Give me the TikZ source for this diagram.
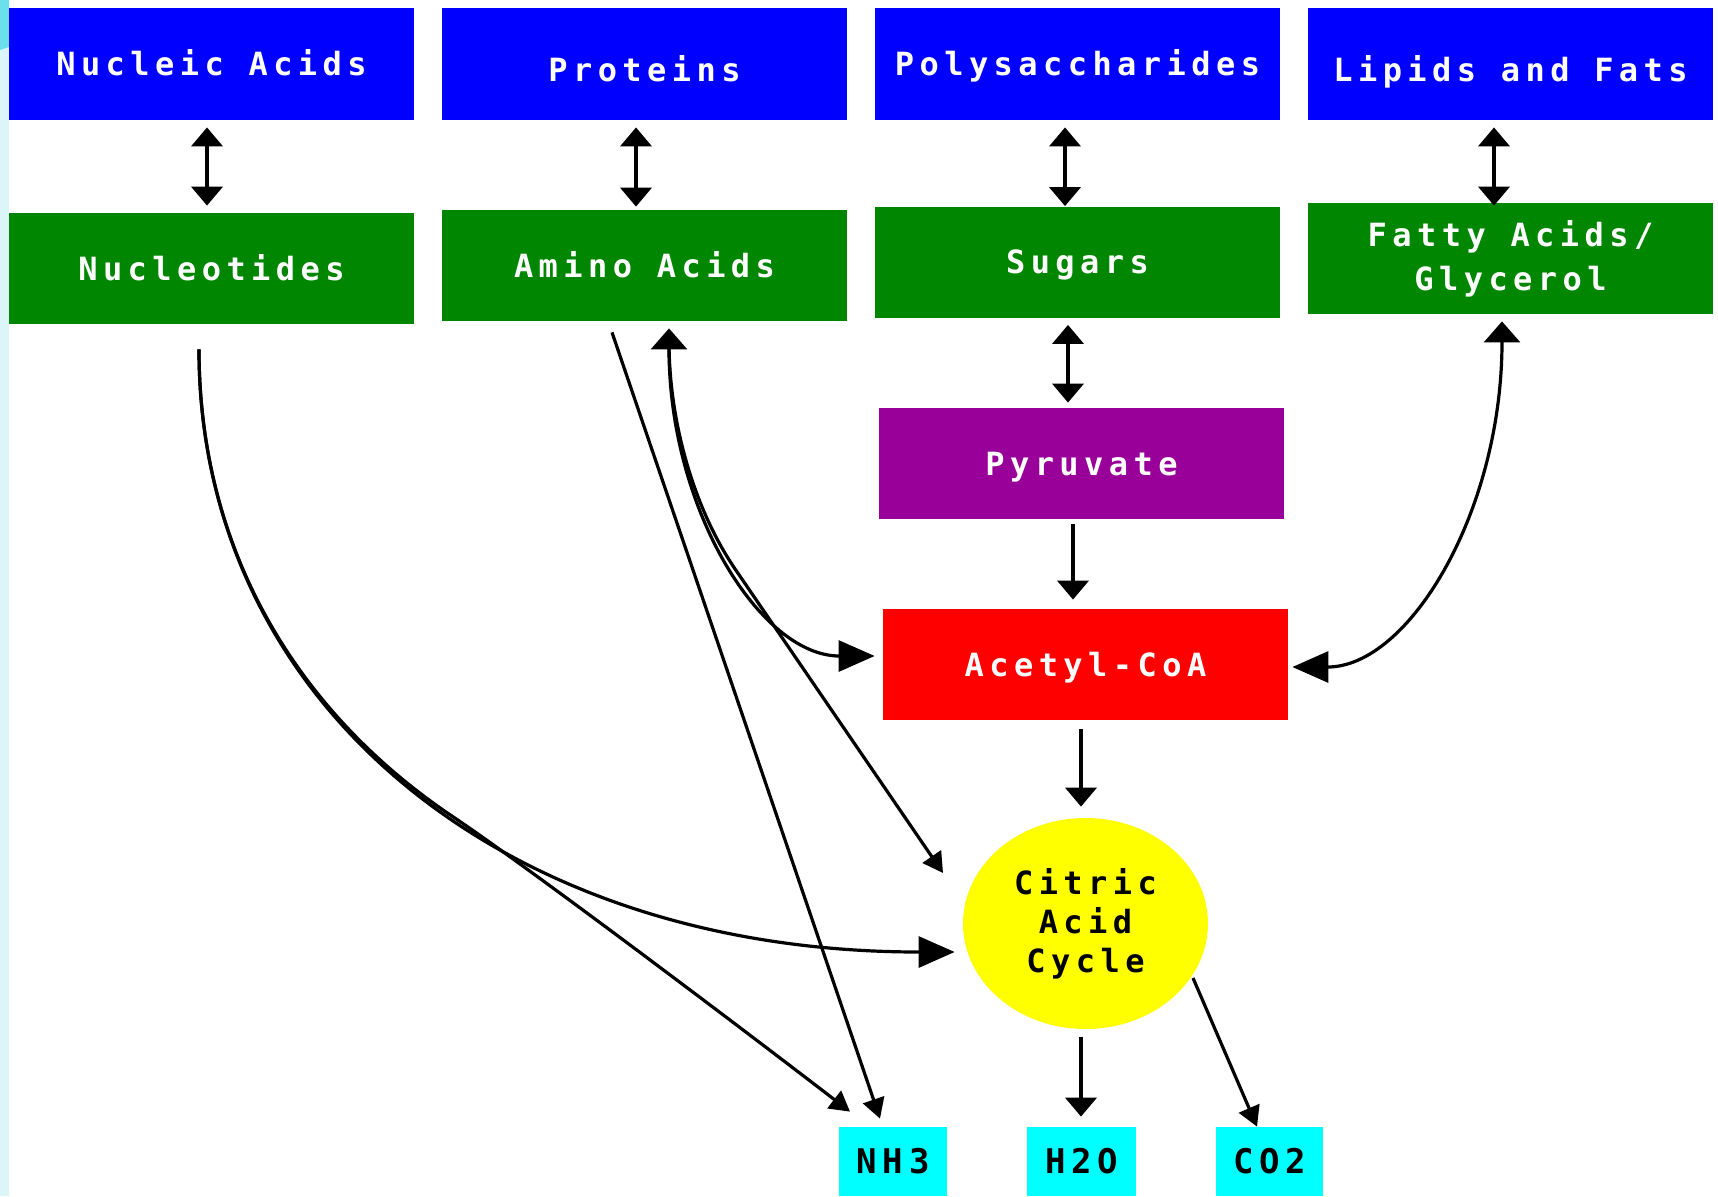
\documentclass[tikz,border=0pt]{standalone}
\usepackage{fontspec}
\newfontfamily\pixfont{DejaVu Sans Mono}[LetterSpace=17]
\usetikzlibrary{arrows.meta,calc,shapes.geometric}
\definecolor{boxblue}{RGB}{0,0,255}
\definecolor{boxgreen}{RGB}{0,134,0}
\definecolor{boxpurple}{RGB}{153,0,153}
\definecolor{boxred}{RGB}{255,0,0}
\definecolor{boxyellow}{RGB}{255,255,0}
\definecolor{boxcyan}{RGB}{0,255,255}
\definecolor{stripcyan}{RGB}{220,245,248}
\definecolor{stripdark}{RGB}{107,224,236}
\tikzset{
  headV/.tip={Triangle[length=9.5pt,width=15.5pt]},
  headT/.tip={Triangle[length=10.5pt,width=18pt]},
  headB/.tip={Triangle[length=18pt,width=15.5pt]},
  headS/.tip={Triangle[length=10pt,width=11pt]},
  pix/.style={font=\pixfont\bfseries\fontsize{16}{22}\selectfont},
  box/.style={rectangle, inner sep=0pt, minimum width=202.5pt, minimum height=55.5pt, text=white, pix},
  oneline/.style={text height=11.66pt, text depth=0pt},
  lowtext/.style={text height=17pt, text depth=0pt},
  topbox/.style={box, oneline, fill=boxblue, minimum height=56pt},
  midbox/.style={box, fill=boxgreen},
  endbox/.style={rectangle, inner sep=0pt, minimum height=34.5pt, fill=boxcyan, text=black, oneline,
    font=\pixfont\bfseries\fontsize{17}{22}\selectfont},
  cycle/.style={ellipse, inner sep=0pt, minimum width=122.5pt, minimum height=105.5pt, fill=boxyellow,
    text=black, align=center, font=\pixfont\bfseries\fontsize{16}{19.5}\selectfont},
  vline/.style={line width=2pt, draw=black},
  cline/.style={line width=1.6pt, draw=black},
}
\begin{document}
\begin{tikzpicture}[x=0.5pt, y=-0.5pt]
\useasboundingbox (0,0) rectangle (1718,1196);
\fill[white] (0,0) rectangle (1718,1196);
\fill[stripcyan] (0,0) rectangle (9,1196);
\fill[stripdark] (0,0) -- (9,0) -- (9,47) -- (0,50) -- cycle;

% top row
\node[topbox] (NA) at (211.5,64) {Nucleic Acids};
\node[topbox, lowtext] (PR) at (644.5,64) {Proteins};
\node[topbox] (PS) at (1077.5,64) {Polysaccharides};
\node[topbox, lowtext] (LF) at (1510.5,64) {Lipids and Fats};
% second row
\node[midbox, oneline] (NT) at (211.5,268.5) {Nucleotides};
\node[midbox, oneline] (AA) at (644.5,265.5) {Amino Acids};
\node[midbox, oneline] (SU) at (1077.5,262) {Sugars};
\node[midbox, align=center] (FA) at (1510.5,258.5) {Fatty Acids/\\Glycerol};
% middle column
\node[box, oneline, fill=boxpurple] (PY) at (1081.5,463.5) {Pyruvate};
\node[box, oneline, fill=boxred] (AC) at (1085.5,664.5) {Acetyl-CoA};
\node[cycle] (CA) at (1085.5,923.5) {Citric\\Acid\\Cycle};
% products
\node[endbox, minimum width=54pt] (NH3) at (893,1161.5) {NH3};
\node[endbox, minimum width=54.5pt] (H2O) at (1081.5,1161.5) {H2O};
\node[endbox, minimum width=53.5pt] (CO2) at (1269.5,1161.5) {CO2};

% vertical double arrows
\draw[vline, headV-headV] ($(NA.south)+(-4.5,7)$) -- ($(NT.north)+(-4.5,-7)$);
\draw[vline, headV-headV] ($(PR.south)+(-8.5,7)$) -- ($(AA.north)+(-8.5,-3)$);
\draw[vline, headV-headV] ($(PS.south)+(-12.5,7)$) -- ($(SU.north)+(-12.5,0)$);
\draw[vline, headV-headV] ($(LF.south)+(-16.5,7)$) -- ($(FA.north)+(-16.5,3)$);
\draw[vline, headV-headV] ($(SU.south)+(-9.5,7)$) -- ($(PY.north)+(-13.5,-5)$);
% vertical single arrows
\draw[vline, -headV] ($(PY.south)+(-8.5,5)$) -- ($(AC.north)+(-12.5,-9)$);
\draw[vline, -headV] ($(AC.south)+(-4.5,9)$) -- ($(CA.north)+(-4.5,-11)$);
\draw[vline, -headV] ($(CA.south)+(-4.5,8)$) -- ($(H2O.north)+(-0.5,-10)$);
\draw[cline, -headS] ($(CA.center)+(107.5,54.5)$) -- ($(CO2.north)+(-12.5,0)$);

% Amino Acids <-> Acetyl-CoA
\draw[cline, headT-headB] ($(AA.south)+(24.5,7)$) .. controls ($(AA.south)+(24.5,188)$) and ($(AC.west)+(-122,-8.5)$) .. ($(AC.west)+(-8,-8.5)$);
% Amino Acids -> Citric Acid Cycle
\draw[cline, -headS] ($(AA.south)+(24.5,20)$) .. controls ($(AA.south)+(24.5,100)$) and ($(AA.south)+(49.3,188.5)$) .. ($(AA.south)+(92.7,250.7)$) -- ($(CA.center)+(-142.5,-50.5)$);
% Amino Acids -> NH3
\draw[cline, -headS] ($(AA.south)+(-32.5,11)$) -- ($(NH3.north)+(-13,-8)$);
% Nucleotides -> Citric Acid Cycle
\draw[cline, -headB] ($(NT.south)+(-12.5,25)$) .. controls ($(NT.south)+(-12.5,376)$) and ($(CA.west)+(-463,28.5)$) .. ($(CA.west)+(-8,28.5)$);
% Nucleotides -> NH3
\draw[cline, -headS] ($(NT.south)+(-12.5,25)$) .. controls ($(NT.south)+(-12.5,218)$) and ($(NT.south)+(78.5,381)$) .. ($(NT.south)+(236.5,489)$)
  .. controls ($(NH3.north)+(-365,-260)$) and ($(NH3.north)+(-143,-92)$) .. ($(NH3.north)+(-43,-15)$);
% Fatty Acids <-> Acetyl-CoA
\draw[cline, headT-headB] ($(FA.south)+(-8.5,7)$) .. controls ($(FA.south)+(-8.5,198)$) and ($(AC.east)+(120,2.5)$) .. ($(AC.east)+(4,2.5)$);
\end{tikzpicture}
\end{document}
